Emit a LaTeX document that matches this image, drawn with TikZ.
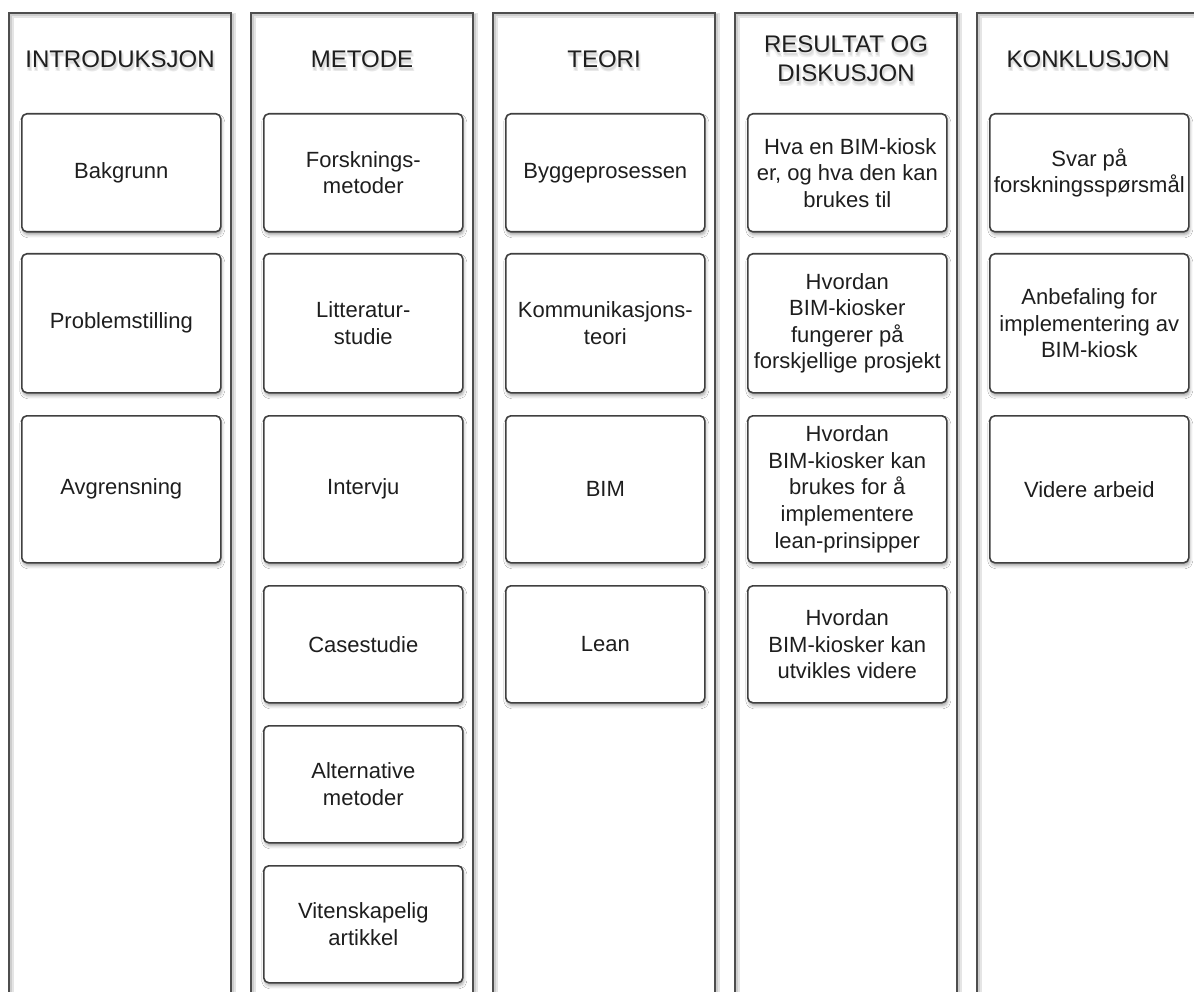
\documentclass[tikz,border=0pt]{standalone}
\usepackage{fontspec}
\setmainfont{Liberation Sans}
\usetikzlibrary{shadows.blur}

\definecolor{ink}{HTML}{1E1E1E}
\definecolor{colline}{HTML}{4E4E4E}
\definecolor{cardline}{HTML}{404040}

\tikzset{
  colframe/.style={draw=colline, line width=1.8pt},
  colshade/.style={draw=black, line width=#1, opacity=0.10},
  card/.style={draw=cardline, line width=1.6pt, rounded corners=5pt, fill=white,
    anchor=north west, minimum width=199pt, inner sep=0pt, align=center,
    text=ink, font=\fontsize{22}{26.6}\selectfont,
    blur shadow={shadow xshift=1pt, shadow yshift=-3pt,
                 shadow blur radius=3pt, shadow opacity=35}},
  head/.style={align=center, text=ink, font=\fontsize{24}{29}\selectfont},
}

% one copy of a title line, shifted and tinted, taking no room
\newcommand{\shadecopy}[4]{%
  \rlap{\hspace{#1}\raisebox{#2}[0pt][0pt]{\textcolor{#3}{#4}}}}
% a title line with a soft shadow beneath it
\newcommand{\shadowed}[1]{\leavevmode
  \shadecopy{0pt}{-1.8pt}{black!5}{#1}%
  \shadecopy{2.2pt}{-1.8pt}{black!5}{#1}%
  \shadecopy{0pt}{-4.5pt}{black!5}{#1}%
  \shadecopy{2.2pt}{-4.5pt}{black!5}{#1}%
  \shadecopy{0.5pt}{-2.5pt}{black!9}{#1}%
  \shadecopy{1.7pt}{-3.8pt}{black!9}{#1}%
  \shadecopy{1.1pt}{-3.1pt}{black!14}{#1}%
  #1}

\begin{document}
\begin{tikzpicture}[x=1pt, y=-1pt]
\path[use as bounding box] (0,0) rectangle (1194,992);
\clip (0,0) rectangle (1194,992);
\fill[white] (0,0) rectangle (1194,992);

% column frames with their line shadows
\foreach \L in {9,251,493,735,977}{
  \draw[colshade=4.5pt] (\L+2.5,15.5) rectangle (\L+224.5,1012);
  \draw[colshade=2.5pt] (\L+2,15) rectangle (\L+224,1012);
  \draw[colframe] (\L,13) rectangle (\L+222,1010);
}

% column titles
\node[head] (h1) at (120,59)  {\shadowed{INTRODUKSJON}};
\node[head] (h2) at (362,59)  {\shadowed{METODE}};
\node[head] (h3) at (604,59)  {\shadowed{TEORI}};
\node[head] (h4) at (846,59)  {\shadowed{RESULTAT OG}\\\shadowed{DISKUSJON}};
\node[head] (h5) at (1088,59) {\shadowed{KONKLUSJON}};

% INTRODUKSJON
\node[card, minimum height=118pt] (i1) at (21,113) {Bakgrunn};
\node[card, minimum height=139pt] (i2) at (21,253) {Problemstilling};
\node[card, minimum height=147pt] (i3) at (21,415) {Avgrensning};

% METODE
\node[card, minimum height=118pt] (m1) at (263,113) {Forsknings-\\metoder};
\node[card, minimum height=139pt] (m2) at (263,253) {Litteratur-\\studie};
\node[card, minimum height=147pt] (m3) at (263,415) {Intervju};
\node[card, minimum height=117pt] (m4) at (263,585) {Casestudie};
\node[card, minimum height=117pt] (m5) at (263,725) {Alternative\\metoder};
\node[card, minimum height=117pt] (m6) at (263,865) {Vitenskapelig\\artikkel};

% TEORI
\node[card, minimum height=118pt] (t1) at (505,113) {Byggeprosessen};
\node[card, minimum height=139pt] (t2) at (505,253) {Kommunikasjons-\\teori};
\node[card, minimum height=147pt] (t3) at (505,415) {BIM};
\node[card, minimum height=117pt] (t4) at (505,585) {Lean};

% RESULTAT OG DISKUSJON
\node[card, minimum height=118pt] (r1) at (747,113) {\hspace{6pt}Hva en BIM-kiosk\\er, og hva den kan\\brukes til};
\node[card, minimum height=139pt] (r2) at (747,253) {Hvordan\\BIM-kiosker\\fungerer på\\forskjellige prosjekt};
\node[card, minimum height=147pt] (r3) at (747,415) {Hvordan\\BIM-kiosker kan\\brukes for å\\implementere\\lean-prinsipper};
\node[card, minimum height=117pt] (r4) at (747,585) {Hvordan\\BIM-kiosker kan\\utvikles videre};

% KONKLUSJON
\node[card, minimum height=118pt] (k1) at (989,113) {Svar på\\forskningsspørsmål};
\node[card, minimum height=139pt] (k2) at (989,253) {Anbefaling for\\implementering av\\BIM-kiosk};
\node[card, minimum height=147pt] (k3) at (989,415) {Videre arbeid};
\end{tikzpicture}
\end{document}
